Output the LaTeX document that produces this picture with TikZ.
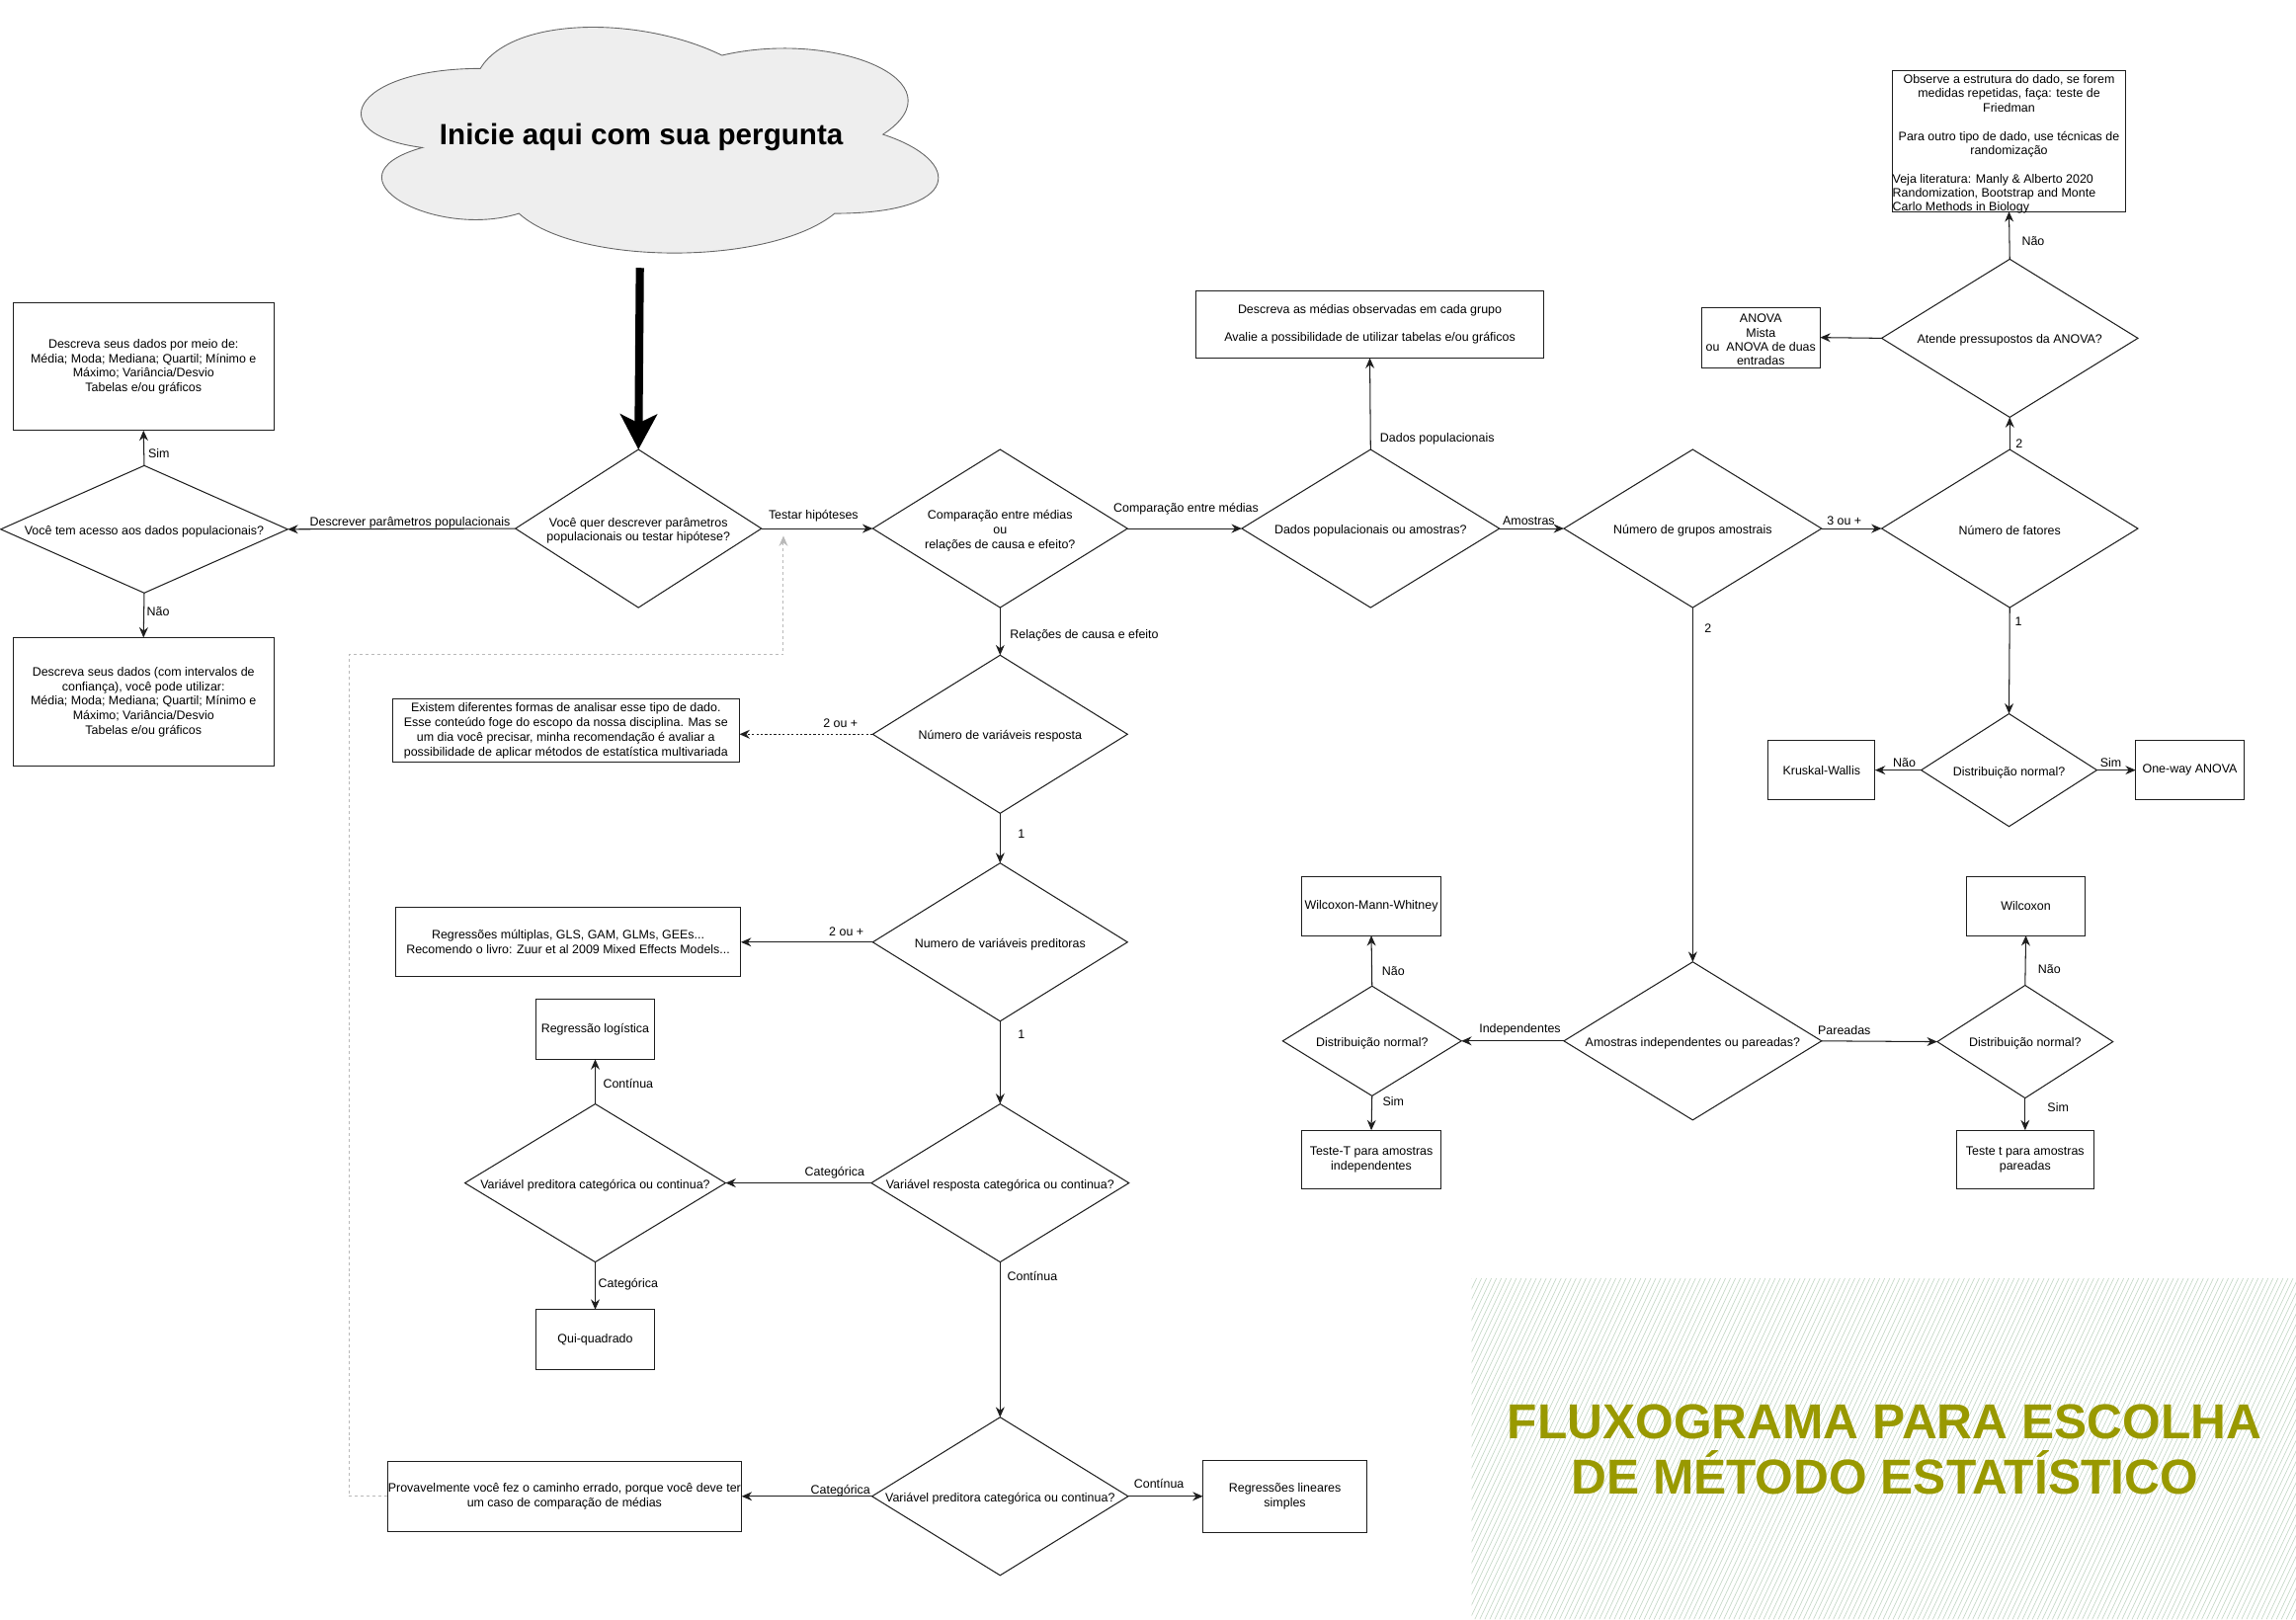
\documentclass[tikz,border=0pt]{standalone}
\usepackage{fontspec}
\setmainfont{Liberation Sans}
\usetikzlibrary{shapes.geometric,arrows.meta}
\definecolor{olivet}{RGB}{153,153,0}
\definecolor{hatchc}{RGB}{196,216,198}
\definecolor{cloudfill}{RGB}{238,238,238}
\definecolor{dotgrey}{RGB}{185,185,185}
\definecolor{linec}{RGB}{30,30,30}
\begin{document}
\begin{tikzpicture}[x=1pt,y=-1pt,
  base/.style={font=\fontsize{8.4}{10}\selectfont},
  box/.style={draw=linec, line width=0.7pt, inner sep=0pt, outer sep=0pt, align=center, base},
  dia/.style={draw=linec, diamond, line width=0.7pt, inner sep=0pt, outer sep=0pt},
  dtext/.style={base, align=center, inner sep=0pt, yshift=-1.5pt},
  arr/.style={draw=linec, line width=0.7pt, -{Stealth[length=7pt,width=6pt]}},
  lbl/.style={base, inner sep=0pt, yshift=-1.5pt},
]
\useasboundingbox (0,0) rectangle (1568,1106);

% hatched title area
\begin{scope}
  \clip (1005,873) rectangle (1568,1106);
  \foreach \i in {0,...,205} {
    \draw[hatchc, line width=0.45pt] ({895+\i*3.4},1106) -- ++(110,-233);
  }
\end{scope}
\node[font=\bfseries\fontsize{33.5}{38}\selectfont, text=olivet, align=center] (title) at (1287,990)
  {FLUXOGRAMA PARA ESCOLHA\\DE MÉTODO ESTATÍSTICO};

% cloud
\begin{scope}[shift={(218pt,-1.8pt)}, x=440pt, y=-180pt]
  \draw[fill=cloudfill, draw=black!60, line width=0.6pt]
    (0.25,0.25) .. controls (0.05,0.25) and (0,0.5) .. (0.16,0.55)
    .. controls (0,0.66) and (0.18,0.9) .. (0.31,0.8)
    .. controls (0.4,1) and (0.7,1) .. (0.8,0.8)
    .. controls (1,0.8) and (1,0.6) .. (0.875,0.5)
    .. controls (1,0.3) and (0.8,0.1) .. (0.625,0.2)
    .. controls (0.5,0.05) and (0.3,0.05) .. (0.25,0.25) -- cycle;
\end{scope}
\node[font=\bfseries\fontsize{20}{24}\selectfont] (start) at (438,94) {Inicie aqui com sua pergunta};
\coordinate (startarrow) at (437,183);

% ---------- diamonds ----------
\node[dia, minimum width=196pt, minimum height=87pt] (d0) at (98.5,361.5) {};
\node[dtext] (d0t) at (d0) {Você tem acesso aos dados populacionais?};
\node[dia, minimum width=168pt, minimum height=108pt] (d1) at (436,361) {};
\node[dtext] (d1t) at (d1) {Você quer descrever parâmetros\\populacionais ou testar hipótese?};
\node[dia, minimum width=174pt, minimum height=108pt] (d2) at (683,361) {};
\node[dtext] (d2t) at (d2) {Comparação entre médias\\ou\\relações de causa e efeito?};
\node[dia, minimum width=176pt, minimum height=108pt] (d3) at (936,361) {};
\node[dtext] (d3t) at (d3) {Dados populacionais ou amostras?};
\node[dia, minimum width=176pt, minimum height=108pt] (d4) at (1156,361) {};
\node[dtext] (d4t) at (d4) {Número de grupos amostrais};
\node[dia, minimum width=175pt, minimum height=108pt] (d5) at (1372.5,361) {};
\node[dtext] (d5t) at (d5) {Número de fatores};
\node[dia, minimum width=175pt, minimum height=108pt] (d6) at (1372.5,231) {};
\node[dtext] (d6t) at (d6) {Atende pressupostos da ANOVA?};
\node[dia, minimum width=120pt, minimum height=77pt] (d7) at (1372,526) {};
\node[dtext] (d7t) at (d7) {Distribuição normal?};
\node[dia, minimum width=176pt, minimum height=108pt] (d8) at (1156,711) {};
\node[dtext] (d8t) at (d8) {Amostras independentes ou pareadas?};
\node[dia, minimum width=122pt, minimum height=75pt] (d9) at (937,711) {};
\node[dtext] (d9t) at (d9) {Distribuição normal?};
\node[dia, minimum width=120pt, minimum height=77pt] (d10) at (1383,711.5) {};
\node[dtext] (d10t) at (d10) {Distribuição normal?};
\node[dia, minimum width=174pt, minimum height=108pt] (d11) at (683,501.5) {};
\node[dtext] (d11t) at (d11) {Número de variáveis resposta};
\node[dia, minimum width=174pt, minimum height=108pt] (d12) at (683,643.5) {};
\node[dtext] (d12t) at (d12) {Numero de variáveis preditoras};
\node[dia, minimum width=176pt, minimum height=108pt] (d13) at (683,808) {};
\node[dtext] (d13t) at (d13) {Variável resposta categórica ou continua?};
\node[dia, minimum width=178pt, minimum height=108pt] (d14) at (406.5,808) {};
\node[dtext] (d14t) at (d14) {Variável preditora categórica ou continua?};
\node[dia, minimum width=175pt, minimum height=108pt] (d15) at (683,1022) {};
\node[dtext] (d15t) at (d15) {Variável preditora categórica ou continua?};

% ---------- boxes ----------
\node[box, minimum width=178pt, minimum height=87pt] (b1) at (98,250.5)
  {Descreva seus dados por meio de:\\Média; Moda; Mediana; Quartil; Mínimo e\\Máximo; Variância/Desvio\\Tabelas e/ou gráficos};
\node[box, minimum width=178pt, minimum height=88pt] (b2) at (98,479.5)
  {Descreva seus dados (com intervalos de\\confiança), você pode utilizar:\\Média; Moda; Mediana; Quartil; Mínimo e\\Máximo; Variância/Desvio\\Tabelas e/ou gráficos};
\node[box, minimum width=238pt, minimum height=46pt] (bmed) at (935.5,221.5)
  {Descreva as médias observadas em cada grupo\\[9pt]Avalie a possibilidade de utilizar tabelas e/ou gráficos};
\node[box, minimum width=81pt, minimum height=41pt] (banova) at (1202.5,230.5) {};
\node[dtext, font=\fontsize{8.4}{9.6}\selectfont] (banovat) at (1202.5,230.5)
  {ANOVA\\Mista\\ou\ \ ANOVA de duas\\entradas};
\node[box, minimum width=159pt, minimum height=96pt] (bfried) at (1372,96.5) {};
\node[dtext, font=\fontsize{8.4}{9.7}\selectfont] (bfriedt) at (1372,97)
  {Observe a estrutura do dado, se forem\\medidas repetidas, faça: teste de\\Friedman\\[9.7pt]
   Para outro tipo de dado, use técnicas de\\randomização\\[9.7pt]
   \makebox[159pt][l]{Veja literatura: Manly \& Alberto 2020}\\
   \makebox[159pt][l]{Randomization, Bootstrap and Monte}\\
   \makebox[159pt][l]{Carlo Methods in Biology}};
\node[box, minimum width=73pt, minimum height=40pt] (bkw) at (1244,526) {Kruskal-Wallis};
\node[box, minimum width=74pt, minimum height=40pt] (bow) at (1495.5,526) {One-way ANOVA};
\node[box, minimum width=95pt, minimum height=40pt] (bwmw) at (936.5,619) {Wilcoxon-Mann-Whitney};
\node[box, minimum width=95pt, minimum height=40pt] (btti) at (936.5,792) {Teste-T para amostras\\independentes};
\node[box, minimum width=81pt, minimum height=40pt] (bwil) at (1383.5,619) {Wilcoxon};
\node[box, minimum width=94pt, minimum height=40pt] (bttp) at (1383,792) {Teste t para amostras\\pareadas};
\node[box, minimum width=237pt, minimum height=43pt] (bmulti) at (386.5,499)
  {Existem diferentes formas de analisar esse tipo de dado.\\Esse conteúdo foge do escopo da nossa disciplina. Mas se\\um dia você precisar, minha recomendação é avaliar a\\possibilidade de aplicar métodos de estatística multivariada};
\node[box, minimum width=236pt, minimum height=47pt] (bregm) at (388,643.5)
  {Regressões múltiplas, GLS, GAM, GLMs, GEEs...\\Recomendo o livro: Zuur et al 2009 Mixed Effects Models...};
\node[box, minimum width=81pt, minimum height=41pt] (blogit) at (406.5,703) {Regressão logística};
\node[box, minimum width=81pt, minimum height=41pt] (bqui) at (406.5,915) {Qui-quadrado};
\node[box, minimum width=242pt, minimum height=48pt] (bwrong) at (385.5,1022)
  {Provavelmente você fez o caminho errado, porque você deve ter\\um caso de comparação de médias};
\node[box, minimum width=112pt, minimum height=49pt] (blin) at (877.5,1022) {Regressões lineares\\simples};

% ---------- connectors ----------
\draw[line width=5.5pt, -{Stealth[length=24pt,width=25pt,inset=6pt]}] (startarrow) -- (d1.north);

\draw[arr] (d1.west) -- (d0.east);
\draw[arr] (d0.north) -- (b1.south);
\draw[arr] (d0.south) -- (b2.north);
\draw[arr] (d1.east) -- (d2.west);
\draw[arr] (d2.east) -- (d3.west);
\draw[arr] (d3.north) -- (bmed.south);
\draw[arr] (d3.east) -- (d4.west);
\draw[arr] (d4.east) -- (d5.west);
\draw[arr] (d5.north) -- (d6.south);
\draw[arr] (d6.west) -- (banova.east);
\draw[arr] (d6.north) -- (bfried.south);
\draw[arr] (d5.south) -- (d7.north);
\draw[arr] (d7.west) -- (bkw.east);
\draw[arr] (d7.east) -- (bow.west);
\draw[arr] (d4.south) -- (d8.north);
\draw[arr] (d8.west) -- (d9.east);
\draw[arr] (d8.east) -- (d10.west);
\draw[arr] (d9.north) -- (bwmw.south);
\draw[arr] (d9.south) -- (btti.north);
\draw[arr] (d10.north) -- (bwil.south);
\draw[arr] (d10.south) -- (bttp.north);
\draw[arr] (d2.south) -- (d11.north);
\draw[arr, dash pattern=on 1.5pt off 1.5pt, line width=1pt] (d11.west) -- (d11.west -| bmulti.east);
\draw[arr] (d11.south) -- (d12.north);
\draw[arr] (d12.west) -- (bregm.east);
\draw[arr] (d12.south) -- (d13.north);
\draw[arr] (d13.west) -- (d14.east);
\draw[arr] (d14.north) -- (blogit.south);
\draw[arr] (d14.south) -- (bqui.north);
\draw[arr] (d13.south) -- (d15.north);
\draw[arr] (d15.west) -- (bwrong.east);
\draw[arr] (d15.east) -- (blin.west);

\coordinate (gend) at (535,366);
\draw[dotgrey, line width=0.7pt, dash pattern=on 2pt off 2pt, -{Stealth[length=7pt,width=6pt]}]
  (bwrong.west) -- (238.5,1022) -- (238.5,447) -- (535,447) -- (gend);

% ---------- labels ----------
\node[lbl] (l1) at (108.5,308) {Sim};
\node[lbl] (l2) at (108,416.5) {Não};
\node[lbl] (l3) at (280,355.5) {Descrever parâmetros populacionais};
\node[lbl] (l4) at (555.5,351) {Testar hipóteses};
\node[lbl] (l5) at (810,346) {Comparação entre médias};
\node[lbl] (l6) at (981.5,298.5) {Dados populacionais};
\node[lbl] (l7) at (1044,354.5) {Amostras};
\node[lbl] (l8) at (1259.5,354.5) {3 ou +};
\node[lbl] (l9) at (1379,301.5) {2};
\node[lbl] (l10) at (1388.5,163.5) {Não};
\node[lbl] (l11) at (1378.5,423) {1};
\node[lbl] (l12) at (1300.5,519.5) {Não};
\node[lbl] (l13) at (1441.5,519.5) {Sim};
\node[lbl] (l14) at (1166.5,428) {2};
\node[lbl] (l15) at (1038,702) {Independentes};
\node[lbl] (l16) at (1259.5,702) {Pareadas};
\node[lbl] (l17) at (951.5,661.5) {Não};
\node[lbl] (l18) at (951.5,751) {Sim};
\node[lbl] (l19) at (1399.5,660.5) {Não};
\node[lbl] (l20) at (1405.5,755) {Sim};
\node[lbl] (l21) at (740.5,432.5) {Relações de causa e efeito};
\node[lbl] (l22) at (574,492.5) {2 ou +};
\node[lbl] (l23) at (697.5,568) {1};
\node[lbl] (l24) at (578,635) {2 ou +};
\node[lbl] (l25) at (697.5,705) {1};
\node[lbl] (l26) at (570,799.5) {Categórica};
\node[lbl] (l27) at (429,738.5) {Contínua};
\node[lbl] (l28) at (429,876) {Categórica};
\node[lbl] (l29) at (705,870.5) {Contínua};
\node[lbl] (l30) at (574,1016.5) {Categórica};
\node[lbl] (l31) at (791.5,1012) {Contínua};
\end{tikzpicture}
\end{document}
